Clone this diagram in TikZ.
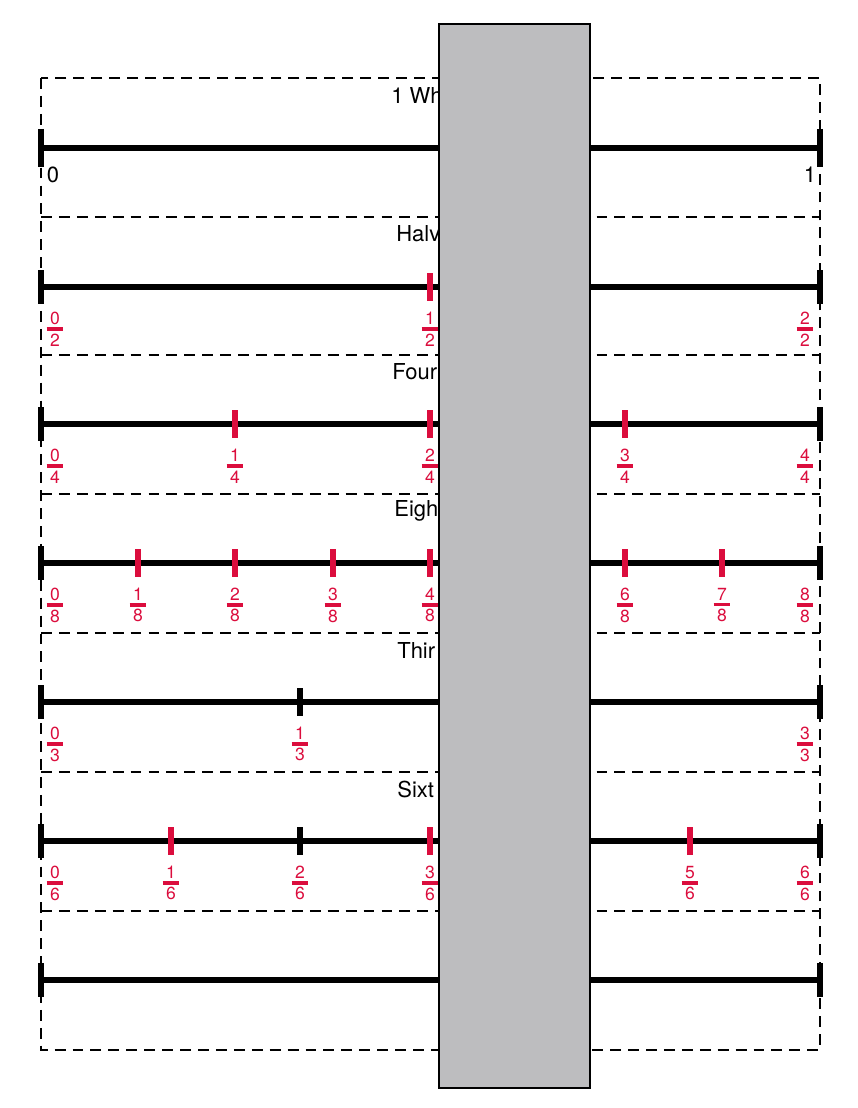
\documentclass[tikz,border=0pt]{standalone}
\usepackage{fontspec}
\setmainfont{TeX Gyre Heros}
\definecolor{fracred}{rgb}{0.86,0.05,0.24}
\definecolor{stripgray}{rgb}{0.74,0.74,0.75}
\newcommand{\frc}[2]{\vbox{\baselineskip=-1pt\lineskip=1.6pt\halign{\hfil##\hfil\cr#1\cr\rule{9.5pt}{2pt}\cr#2\cr}}}

\begin{document}
\begin{tikzpicture}[x=0.02cm, y=-0.02cm,
        numline/.style={line width=3.4pt},
        endtick/.style={line width=3.8pt},
        redtick/.style={line width=3.6pt, draw=fracred},
        blacktick/.style={line width=3.6pt},
        fraclabel/.style={text=fracred, inner sep=0pt, font=\fontsize{10}{10}\selectfont},
        endlabel/.style={inner sep=0pt, font=\fontsize{12.5}{14}\selectfont},
        rowtitle/.style={inner sep=0pt, anchor=west, font=\fontsize{12.5}{14}\selectfont},
        stripframe/.style={line width=1.4pt, dash pattern=on 6.2pt off 4pt}]
\useasboundingbox (0,0) rectangle (858,1108);
        \begin{scope}
% frame and row separators
\draw[stripframe] (41,78) rectangle (820,1050);
\draw[stripframe] (41,217) -- (820,217);
\draw[stripframe] (41,355) -- (820,355);
\draw[stripframe] (41,494) -- (820,494);
\draw[stripframe] (41,633) -- (820,633);
\draw[stripframe] (41,772) -- (820,772);
\draw[stripframe] (41,911) -- (820,911);
% 1 whole
\node[rowtitle] (wholetitle) at (391,95) {1 Wh};
\coordinate (w0) at (41,148);
\coordinate (w1) at (820,148);
\draw[numline] (w0) -- (w1);
\draw[endtick] (41,129) -- (41,167);
\draw[endtick] (820,129) -- (820,167);
\node[endlabel] (wlab0) at (53,175) {0};
\node[endlabel] (wlab1) at (810,175) {1};
% halves
\node[rowtitle] (halftitle) at (396,234) {Halv};
\coordinate (h0) at (41,287);
\coordinate (h2) at (820,287);
\draw[numline] (h0) -- (h2);
\draw[endtick] (41,270) -- (41,304);
\draw[endtick] (820,270) -- (820,304);
\draw[redtick] (430,273) -- (430,301);
\node[fraclabel] (hlab0) at (55,329) {\frc{0}{2}};
\node[fraclabel] (hlab1) at (430,329) {\frc{1}{2}};
\node[fraclabel] (hlab2) at (805,329) {\frc{2}{2}};
% fourths
\node[rowtitle] (fourthtitle) at (392,372) {Four};
\coordinate (f0) at (41,424);
\coordinate (f4) at (820,424);
\draw[numline] (f0) -- (f4);
\draw[endtick] (41,407) -- (41,441);
\draw[endtick] (820,407) -- (820,441);
\draw[redtick] (235,410) -- (235,438);
\draw[redtick] (430,410) -- (430,438);
\draw[redtick] (625,410) -- (625,438);
\node[fraclabel] (flab0) at (55,466) {\frc{0}{4}};
\node[fraclabel] (flab1) at (235,466) {\frc{1}{4}};
\node[fraclabel] (flab2) at (430,466) {\frc{2}{4}};
\node[fraclabel] (flab3) at (625,466) {\frc{3}{4}};
\node[fraclabel] (flab4) at (805,466) {\frc{4}{4}};
% eighths
\node[rowtitle] (eighthtitle) at (394,511) {Eigh};
\coordinate (e0) at (41,563);
\coordinate (e8) at (820,563);
\draw[numline] (e0) -- (e8);
\draw[endtick] (41,546) -- (41,580);
\draw[endtick] (820,546) -- (820,580);
\draw[redtick] (138,549) -- (138,577);
\draw[redtick] (235,549) -- (235,577);
\draw[redtick] (333,549) -- (333,577);
\draw[redtick] (430,549) -- (430,577);
\draw[redtick] (625,549) -- (625,577);
\draw[redtick] (722,549) -- (722,577);
\node[fraclabel] (elab0) at (55,605) {\frc{0}{8}};
\node[fraclabel] (elab1) at (138,605) {\frc{1}{8}};
\node[fraclabel] (elab2) at (235,605) {\frc{2}{8}};
\node[fraclabel] (elab3) at (333,605) {\frc{3}{8}};
\node[fraclabel] (elab4) at (430,605) {\frc{4}{8}};
\node[fraclabel] (elab6) at (625,605) {\frc{6}{8}};
\node[fraclabel] (elab7) at (722,605) {\frc{7}{8}};
\node[fraclabel] (elab8) at (805,605) {\frc{8}{8}};
% thirds
\node[rowtitle] (thirdtitle) at (397,650) {Thir};
\coordinate (t0) at (41,702);
\coordinate (t3) at (820,702);
\draw[numline] (t0) -- (t3);
\draw[endtick] (41,685) -- (41,719);
\draw[endtick] (820,685) -- (820,719);
\draw[blacktick] (300,688) -- (300,716);
\node[fraclabel] (tlab0) at (55,744) {\frc{0}{3}};
\node[fraclabel] (tlab1) at (300,744) {\frc{1}{3}};
\node[fraclabel] (tlab3) at (805,744) {\frc{3}{3}};
% sixths
\node[rowtitle] (sixthtitle) at (397,789) {Sixt};
\coordinate (s0) at (41,841);
\coordinate (s6) at (820,841);
\draw[numline] (s0) -- (s6);
\draw[endtick] (41,824) -- (41,858);
\draw[endtick] (820,824) -- (820,858);
\draw[redtick] (171,827) -- (171,855);
\draw[blacktick] (300,827) -- (300,855);
\draw[redtick] (430,827) -- (430,855);
\draw[redtick] (690,827) -- (690,855);
\node[fraclabel] (slab0) at (55,883) {\frc{0}{6}};
\node[fraclabel] (slab1) at (171,883) {\frc{1}{6}};
\node[fraclabel] (slab2) at (300,883) {\frc{2}{6}};
\node[fraclabel] (slab3) at (430,883) {\frc{3}{6}};
\node[fraclabel] (slab5) at (690,883) {\frc{5}{6}};
\node[fraclabel] (slab6) at (805,883) {\frc{6}{6}};
% blank line
\coordinate (b0) at (41,980);
\coordinate (b1) at (820,980);
\draw[numline] (b0) -- (b1);
\draw[endtick] (41,963) -- (41,997);
\draw[endtick] (820,963) -- (820,997);
% sliding strip
\draw[line width=1.3pt, fill=stripgray] (439,24) rectangle (590,1088);
\end{scope}
    \end{tikzpicture}
\end{document}
